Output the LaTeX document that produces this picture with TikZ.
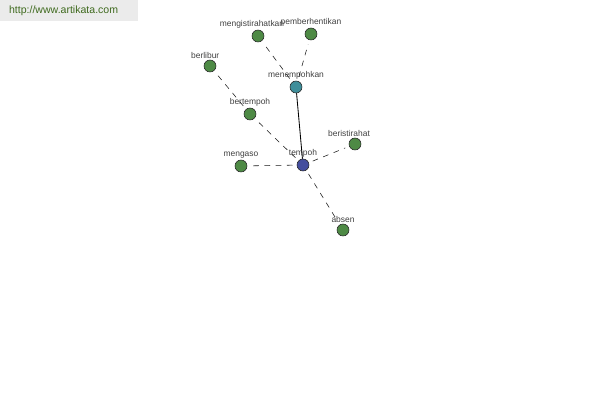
\documentclass[tikz,border=0pt]{standalone}
\usepackage{fontspec}
\setmainfont{Liberation Sans}
\usetikzlibrary{positioning}
\definecolor{leafgreen}{HTML}{4E8A45}
\definecolor{midteal}{HTML}{3F8E9A}
\definecolor{rootblue}{HTML}{444E9E}
\definecolor{sitegreen}{HTML}{3F6A1E}

\begin{document}
\begin{tikzpicture}[x=0.025cm, y=-0.025cm, semithick,
            word/.style={circle, draw=black!85, thin, minimum size=0.3cm, inner sep=0pt, fill=leafgreen},
            lbl/.style={font=\fontsize{6}{7}\selectfont, text=black!75, inner sep=0pt, label distance=0.03cm},
            link/.style={thin, black!90, dash pattern=on 4pt off 4pt, shorten >=3pt, shorten <=3pt}]

        \useasboundingbox (0,0) rectangle (600,400);

        % --- Site banner ---
        \fill[black!8] (0,0) rectangle (138,21);
        \node[font=\fontsize{7.5}{9}\selectfont, text=sitegreen, anchor=west] (site) at (4,11) {http://www.artikata.com};

        % --- Words ---
        \node[word, fill=rootblue, label={[lbl]above:tempoh}]            (T)  at (303,165) {};
        \node[word, fill=midteal,  label={[lbl]above:menempohkan}]       (M)  at (296,87)  {};
        \node[word, label={[lbl, xshift=-0.15cm]above:mengistirahatkan}] (Mi) at (258,36)  {};
        \node[word, label={[lbl]above:pemberhentikan}]                   (P)  at (311,34)  {};
        \node[word, label={[lbl, xshift=-0.12cm]above:berlibur}]         (L)  at (210,66)  {};
        \node[word, label={[lbl]above:bertempoh}]                        (B)  at (250,114) {};
        \node[word, label={[lbl]above:mengaso}]                          (A)  at (241,166) {};
        \node[word, label={[lbl, xshift=-0.15cm]above:beristirahat}]     (R)  at (355,144) {};
        \node[word, label={[lbl]above:absen}]                            (S)  at (343,230) {};

        % --- Links ---
        \draw[semithick] (T) -- (M);
        \path[link] (M) edge (Mi)
                    (M) edge (P)
                    (T) edge (B)
                    (B) edge (L)
                    (T) edge (A)
                    (T) edge (R)
                    (T) edge (S);

\end{tikzpicture}
\end{document}
